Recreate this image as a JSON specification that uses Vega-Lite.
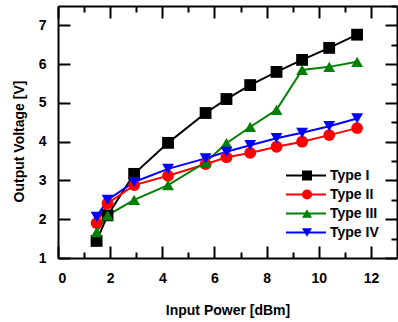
{
  "$schema": "https://vega.github.io/schema/vega-lite/v6.json",
  "width": 339,
  "height": 252,
  "autosize": "none",
  "padding": {"left": 58, "top": 6, "right": 1, "bottom": 64},
  "background": "white",
  "config": {
    "view": {"stroke": null},
    "font": "Liberation Sans",
    "axis": {
      "domainColor": "black", "domainWidth": 2, "tickColor": "black", "tickWidth": 2,
      "labelFont": "Liberation Sans", "labelFontWeight": "bold", "labelFontSize": 14, "labelColor": "black",
      "titleFont": "Liberation Sans", "titleFontWeight": "bold", "titleFontSize": 14, "titleColor": "black",
      "grid": false
    }
  },
  "data": {"values": [
    {"p": 1.48, "v": 1.44, "t": "Type I"}, {"p": 1.9, "v": 2.1, "t": "Type I"}, {"p": 2.92, "v": 3.17, "t": "Type I"},
    {"p": 4.22, "v": 3.97, "t": "Type I"}, {"p": 5.66, "v": 4.74, "t": "Type I"}, {"p": 6.46, "v": 5.1, "t": "Type I"},
    {"p": 7.37, "v": 5.46, "t": "Type I"}, {"p": 8.38, "v": 5.8, "t": "Type I"}, {"p": 9.36, "v": 6.11, "t": "Type I"},
    {"p": 10.4, "v": 6.42, "t": "Type I"}, {"p": 11.47, "v": 6.76, "t": "Type I"},
    {"p": 1.48, "v": 1.9, "t": "Type II"}, {"p": 1.9, "v": 2.41, "t": "Type II"}, {"p": 2.92, "v": 2.88, "t": "Type II"},
    {"p": 4.22, "v": 3.12, "t": "Type II"}, {"p": 5.66, "v": 3.42, "t": "Type II"}, {"p": 6.46, "v": 3.6, "t": "Type II"},
    {"p": 7.37, "v": 3.71, "t": "Type II"}, {"p": 8.38, "v": 3.87, "t": "Type II"}, {"p": 9.36, "v": 4.0, "t": "Type II"},
    {"p": 10.4, "v": 4.17, "t": "Type II"}, {"p": 11.47, "v": 4.35, "t": "Type II"},
    {"p": 1.48, "v": 1.67, "t": "Type III"}, {"p": 1.9, "v": 2.1, "t": "Type III"}, {"p": 2.92, "v": 2.5, "t": "Type III"},
    {"p": 4.22, "v": 2.88, "t": "Type III"}, {"p": 5.66, "v": 3.47, "t": "Type III"}, {"p": 6.46, "v": 3.96, "t": "Type III"},
    {"p": 7.37, "v": 4.38, "t": "Type III"}, {"p": 8.38, "v": 4.82, "t": "Type III"}, {"p": 9.36, "v": 5.85, "t": "Type III"},
    {"p": 10.4, "v": 5.93, "t": "Type III"}, {"p": 11.47, "v": 6.06, "t": "Type III"},
    {"p": 1.48, "v": 2.06, "t": "Type IV"}, {"p": 1.9, "v": 2.5, "t": "Type IV"}, {"p": 2.92, "v": 2.96, "t": "Type IV"},
    {"p": 4.22, "v": 3.3, "t": "Type IV"}, {"p": 5.66, "v": 3.57, "t": "Type IV"}, {"p": 6.46, "v": 3.74, "t": "Type IV"},
    {"p": 7.37, "v": 3.91, "t": "Type IV"}, {"p": 8.38, "v": 4.09, "t": "Type IV"}, {"p": 9.36, "v": 4.23, "t": "Type IV"},
    {"p": 10.4, "v": 4.4, "t": "Type IV"}, {"p": 11.47, "v": 4.6, "t": "Type IV"}
  ]},
  "resolve": {"axis": {"x": "independent", "y": "independent"}},
  "layer": [
    {
      "mark": {"type": "line", "strokeWidth": 2},
      "encoding": {
        "x": {"field": "p", "type": "quantitative", "scale": {"domain": [0, 13], "nice": false, "zero": false},
          "axis": {"orient": "bottom", "title": "Input Power [dBm]", "values": [0,1,2,3,4,5,6,7,8,9,10,11,12], "format": "d",
            "labelExpr": "datum.value % 2 === 0 ? datum.label : ''",
            "tickSize": {"condition": {"test": "datum.value % 2 === 0", "value": -12}, "value": -6},
            "labelPadding": 25, "titlePadding": 18}},
        "y": {"field": "v", "type": "quantitative", "scale": {"domain": [1, 7.5], "nice": false, "zero": false},
          "axis": {"orient": "left", "title": "Output Voltage [V]", "values": [1,1.5,2,2.5,3,3.5,4,4.5,5,5.5,6,6.5,7,7.5], "format": "d",
            "labelExpr": "datum.value % 1 === 0 ? datum.label : ''",
            "tickSize": {"condition": {"test": "datum.value % 1 === 0", "value": -12}, "value": -6},
            "labelPadding": 24, "titlePadding": 12, "titleY": 135}},
        "stroke": {"field": "t", "type": "nominal",
          "scale": {"domain": ["Type I", "Type II", "Type III", "Type IV"], "range": ["#000000", "#ff0000", "#008000", "#0000ff"]},
          "legend": {
            "title": null, "orient": "none", "legendX": 227, "legendY": 160, "padding": 0,
            "labelFont": "Liberation Sans", "labelFontWeight": "bold", "labelFontSize": 14, "labelColor": "black",
            "symbolType": "stroke", "symbolSize": 1600, "symbolStrokeWidth": 2, "labelOffset": 3,
            "clipHeight": 19, "rowPadding": 0, "symbolOpacity": 1
          }}
      }
    },
    {
      "mark": {"type": "point", "filled": true, "opacity": 1, "size": 140},
      "encoding": {
        "x": {"field": "p", "type": "quantitative", "axis": {"orient": "top", "title": null, "labels": false, "values": [0,1,2,3,4,5,6,7,8,9,10,11,12],
            "tickSize": {"condition": {"test": "datum.value % 2 === 0", "value": -12}, "value": -6}}},
        "y": {"field": "v", "type": "quantitative", "axis": {"orient": "right", "title": null, "labels": false, "values": [1,1.5,2,2.5,3,3.5,4,4.5,5,5.5,6,6.5,7,7.5],
            "tickSize": {"condition": {"test": "datum.value % 1 === 0", "value": -12}, "value": -6}}},
        "fill": {"field": "t", "type": "nominal",
          "scale": {"range": ["#000000", "#ff0000", "#008000", "#0000ff"]},
          "legend": {
            "title": null, "orient": "none", "legendX": 242, "legendY": 160, "padding": 0,
            "labelExpr": "''", "labelFontSize": 14,
            "symbolSize": 100, "clipHeight": 19, "rowPadding": 0, "symbolOpacity": 1
          }},
        "shape": {"field": "t", "type": "nominal",
          "scale": {"range": ["square", "circle", "triangle-up", "triangle-down"]},
          "legend": {
            "title": null, "orient": "none", "legendX": 242, "legendY": 160, "padding": 0,
            "labelExpr": "''", "labelFontSize": 14,
            "symbolSize": 100, "clipHeight": 19, "rowPadding": 0, "symbolOpacity": 1
          }}
      }
    }
  ]
}
